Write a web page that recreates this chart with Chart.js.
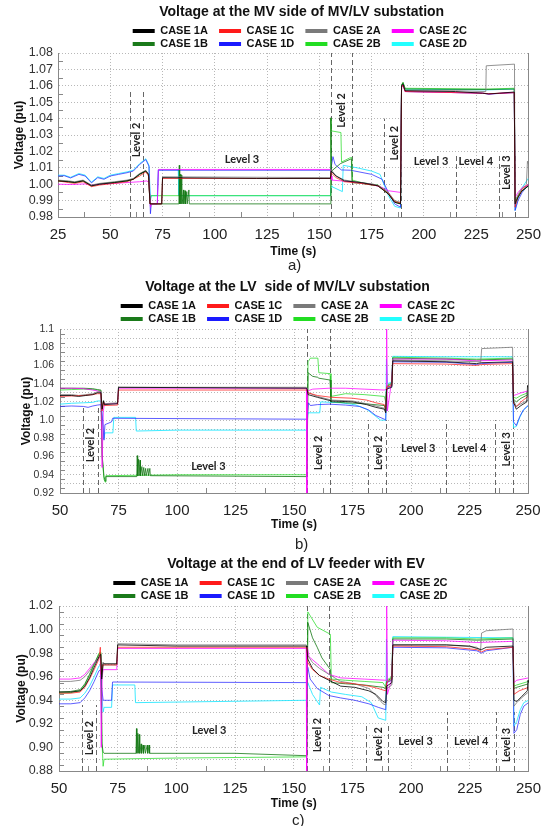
<!DOCTYPE html>
<html>
<head>
<meta charset="utf-8">
<script src="https://cdn.jsdelivr.net/npm/chart.js@4.4.0/dist/chart.umd.min.js"></script>
<style>
  html, body { margin: 0; padding: 0; background: #fff; }
  #page { position: relative; width: 550px; height: 826px; overflow: hidden; }
  canvas { position: absolute; left: 0; }
  .tag { position: absolute; font: 15px 'Liberation Sans', Arial, sans-serif; color: #222; line-height: 17px; }
</style>
</head>
<body>
<div id="page">
  <canvas id="chartA" width="550" height="263" style="top:0"></canvas>
  <canvas id="chartB" width="550" height="266" style="top:270px"></canvas>
  <canvas id="chartC" width="550" height="267" style="top:548px"></canvas>
  <div class="tag" style="left:288px;top:256px">a)</div>
  <div class="tag" style="left:295px;top:535px">b)</div>
  <div class="tag" style="left:292px;top:811px">c)</div>
</div>
<script>
// legend order (row by row): 1A 1C 2A 2C / 1B 1D 2B 2D
var caseNames = ['CASE 1A', 'CASE 1C', 'CASE 2A', 'CASE 2C', 'CASE 1B', 'CASE 1D', 'CASE 2B', 'CASE 2D'];
var caseColors = ['#000000', '#ff1a1a', '#7a7a7a', '#ff00ff', '#1a7a1a', '#1a1aff', '#22dd22', '#22ffff'];
var lineColors = ['rgba(0,0,0,0.8)', 'rgba(255,30,30,0.75)', 'rgba(120,120,120,0.8)', 'rgba(255,0,255,0.75)',
                  'rgba(20,120,20,0.8)', 'rgba(40,40,255,0.75)', 'rgba(40,220,40,0.75)', 'rgba(30,230,255,0.85)'];

// a) MV side of MV/LV substation  [time s, voltage pu]
var mv1A = [[25,1.002],[30,1.0015],[33,1.001],[37,1.002],[41,0.999],[45,1.0],[52,1.001],[58,1.002],[61,1.003],[64,1.006],[67,1.008],[68.3,1.006],[69,0.988],[74.6,0.988],[75,1.004],[120,1.0035],[155.3,1.0035],[155.6,1.008],[158,1.005],[162,1.002],[170,1.001],[178,0.999],[183,0.994],[186,0.989],[188.8,0.988],[189.3,1.060],[190,1.061],[191,1.057],[215,1.0565],[228,1.0555],[231,1.055],[236,1.0555],[243.2,1.0562],[243.6,0.988],[245,0.992],[247,0.996],[250,0.999]];
var mv1C = [[25,1.002],[30,1.001],[33,1.0005],[37,1.0015],[41,0.9985],[45,0.9995],[52,1.0005],[58,1.0015],[61,1.003],[64,1.005],[67,1.0075],[68.3,1.005],[69,0.988],[74.6,0.988],[75,1.0035],[155.3,1.0035],[155.6,1.007],[158,1.004],[162,1.0015],[170,1.0005],[178,0.999],[183,0.9945],[186,0.9895],[188.8,0.9885],[189.3,1.059],[190,1.0605],[191,1.0565],[228,1.0555],[231,1.0552],[243.2,1.0558],[243.6,0.986],[245,0.992],[247,0.997],[250,1.0]];
var mv2A = [[25,1.0025],[30,1.002],[33,1.0015],[37,1.0025],[41,0.9995],[45,1.0005],[52,1.0015],[58,1.0025],[61,1.0035],[64,1.0065],[67,1.0085],[68.3,1.006],[69,0.988],[74.6,0.988],[75,1.0045],[155.3,1.004],[155.6,1.009],[158,1.005],[162,1.0025],[170,1.001],[178,0.9995],[183,0.995],[186,0.99],[188.8,0.989],[189.3,1.06],[190,1.061],[191,1.057],[215,1.057],[229.6,1.0565],[229.8,1.0722],[243.3,1.0732],[243.6,0.99],[246,0.996],[249,1.0],[249.5,1.014],[250,1.012]];
var mv2C = [[25,1.0],[32,0.9998],[38,1.0002],[41,0.9995],[45,1.0],[52,1.0005],[58,1.001],[64,1.0015],[67.5,1.002],[68.5,1.001],[69.2,0.986],[69.6,0.988],[72.5,0.988],[73,1.009],[155.3,1.009],[155.6,1.005],[156,1.0025],[165,1.0015],[175,1.0],[180,0.998],[183,0.996],[188.8,0.995],[189.3,1.059],[190,1.0605],[191,1.0565],[228,1.0555],[231,1.055],[243.2,1.056],[243.6,0.992],[245,0.995],[247,0.998],[250,0.9995]];
var mv1B = [[25,1.0022],[30,1.0017],[33,1.0012],[37,1.0022],[41,0.9992],[45,1.0002],[52,1.0012],[58,1.0022],[61,1.0032],[64,1.0062],[67,1.0082],[68.3,1.006],[69,0.988],[82.8,0.988],[83,1.0115],[83.2,0.988],[83.6,1.006],[83.8,0.988],[84.2,1.0055],[84.4,0.988],[85,0.9965],[85.2,0.988],[85.8,0.996],[86,0.988],[86.6,0.9955],[86.8,0.988],[87.6,0.9965],[87.8,0.988],[155.3,0.988],[155.5,1.0405],[155.8,1.008],[160,1.0125],[165.3,1.0155],[165.6,1.001],[170,1.0005],[178,0.999],[183,0.994],[186,0.989],[188.8,0.988],[189.3,1.0605],[190,1.062],[191,1.058],[230,1.0578],[243.2,1.058],[243.6,0.989],[246,0.995],[250,0.999]];
var mv1D = [[25,1.005],[28,1.0052],[31,1.0038],[35,1.006],[38,1.005],[41,1.0008],[44,1.004],[47,1.003],[50,1.005],[54,1.006],[58,1.007],[61,1.008],[64,1.012],[67,1.015],[68.5,1.011],[69.2,0.982],[69.6,0.988],[72.5,0.988],[73,1.0085],[155.3,1.0085],[155.6,1.01],[156.5,1.0168],[157.5,1.012],[160.5,1.0087],[165,1.0085],[175,1.006],[180,1.003],[183,0.995],[186,0.988],[188.8,0.986],[189.3,1.059],[190,1.0605],[191,1.0565],[228,1.0555],[231,1.055],[243.2,1.0558],[243.6,0.984],[245,0.99],[247,0.995],[250,1.0]];
var mv2B = [[25,1.002],[30,1.0015],[33,1.001],[37,1.002],[41,0.999],[45,1.0],[52,1.001],[58,1.002],[61,1.003],[64,1.006],[67,1.0082],[68.3,1.006],[69,0.99],[69.5,0.993],[155.3,0.993],[155.5,1.0403],[155.8,1.0325],[160.3,1.0315],[160.6,1.0135],[164.5,1.016],[165.5,1.0163],[165.8,1.0025],[170,1.001],[178,0.9995],[183,0.9945],[186,0.9895],[188.8,0.9885],[189.3,1.0605],[190,1.062],[191,1.0585],[230,1.058],[243.2,1.0585],[243.6,0.99],[246,0.995],[250,0.999]];
var mv2D = [[25,1.0055],[28,1.0055],[31,1.0042],[35,1.0065],[38,1.0055],[41,1.0012],[44,1.0045],[47,1.0035],[50,1.0055],[54,1.0065],[58,1.0075],[61,1.0085],[64,1.0125],[67,1.0155],[68.5,1.0115],[69.2,0.99],[69.6,0.993],[72.5,0.993],[73,1.0088],[82.5,1.0088],[82.8,0.993],[155.3,0.993],[155.6,0.999],[156,0.9985],[161,0.9955],[161.4,1.0115],[168,1.01],[175,1.008],[179,1.006],[183,0.993],[186,0.9865],[188.8,0.9855],[189.3,1.06],[190,1.0615],[191,1.058],[230,1.0575],[243.2,1.058],[243.6,0.984],[245,0.991],[247,0.998],[250,1.0037]];

// b) LV side of MV/LV substation
var lv1A = [[50,1.027],[55,1.027],[58,1.026],[61,1.027],[64,1.028],[66,1.03],[67.5,1.03],[68,1.012],[68.6,1.021],[69,1.017],[74.6,1.018],[75,1.036],[155.3,1.035],[155.6,1.034],[156,1.028],[160,1.025],[166,1.021],[175,1.02],[181,1.017],[185,1.014],[188.6,1.012],[189.2,1.008],[189.6,1.034],[191.8,1.036],[192.2,1.065],[215,1.064],[228,1.062],[230,1.063],[243.4,1.064],[243.8,1.02],[245,1.012],[247,1.016],[249.5,1.02],[249.8,1.038],[250,1.036]];
var lv1C = [[50,1.026],[55,1.0265],[60,1.027],[64,1.028],[66,1.029],[67.5,1.029],[68,1.01],[68.6,1.02],[69,1.016],[74.6,1.0165],[75,1.033],[155.3,1.033],[155.6,1.033],[156,1.03],[160,1.027],[166,1.025],[175,1.024],[181,1.022],[185,1.019],[188.6,1.017],[189.2,1.012],[189.6,1.036],[191.8,1.038],[192.2,1.062],[215,1.0615],[228,1.06],[230,1.061],[243.4,1.062],[243.8,1.018],[245,1.015],[247,1.02],[250,1.026]];
var lv2A = [[50,1.028],[55,1.028],[58,1.027],[61,1.028],[64,1.029],[66,1.031],[67.5,1.031],[68,1.013],[68.6,1.022],[69,1.018],[74.6,1.019],[75,1.036],[155.3,1.036],[155.6,1.035],[156,1.03],[160,1.026],[166,1.022],[175,1.021],[181,1.018],[185,1.0155],[188.6,1.013],[189.2,1.009],[189.6,1.036],[191.8,1.038],[192.2,1.066],[215,1.065],[229.8,1.064],[230.2,1.0785],[243.4,1.08],[243.8,1.022],[245,1.015],[247,1.018],[250,1.022]];
var lv2C = [[50,1.035],[55,1.035],[60,1.0345],[64,1.033],[66,1.032],[67.5,1.031],[68,0.948],[68.5,1.01],[69,1.018],[74.6,1.018],[75,1.035],[155.3,1.035],[155.5,0.92],[155.8,1.032],[158,1.034],[165,1.035],[172,1.035],[180,1.034],[188.6,1.033],[189.5,1.034],[189.6,1.1],[189.9,1.01],[191.8,1.044],[192.2,1.067],[215,1.067],[228,1.065],[243.4,1.066],[243.8,1.027],[245,1.028],[247,1.03],[250,1.032]];
var lv1B = [[50,1.035],[55,1.035],[60,1.035],[64,1.0345],[66,1.0335],[67.5,1.033],[68,0.962],[68.8,0.938],[69.3,0.933],[69.6,0.938],[82.8,0.938],[83,0.961],[83.2,0.939],[83.6,0.957],[83.8,0.939],[84.2,0.956],[84.4,0.939],[85,0.949],[85.2,0.939],[85.8,0.948],[86,0.939],[86.6,0.947],[86.8,0.939],[87.6,0.947],[87.8,0.939],[88.4,0.947],[88.6,0.939],[155.3,0.938],[155.6,0.945],[156,1.052],[158,1.048],[160.2,1.047],[160.6,1.046],[165.4,1.044],[165.8,1.02],[172,1.019],[180,1.018],[188.6,1.016],[189.2,1.01],[189.6,1.037],[191.8,1.04],[192.2,1.068],[215,1.067],[228,1.066],[243.4,1.067],[243.8,1.023],[245,1.02],[247,1.024],[250,1.028]];
var lv1D = [[50,1.015],[55,1.0155],[60,1.015],[62,1.014],[64,1.0155],[66,1.0165],[67.5,1.017],[68.2,1.0],[68.8,0.978],[69.2,0.995],[72,0.998],[72.5,1.002],[155.3,1.001],[155.6,1.0],[156.2,1.019],[157,1.016],[160,1.017],[165,1.0175],[172,1.0165],[178,1.015],[182,1.011],[185,1.005],[188.6,1.001],[189.2,1.0],[189.6,1.035],[191.8,1.037],[192.2,1.064],[215,1.0635],[228,1.061],[230,1.062],[243.4,1.0635],[243.8,0.998],[245,0.994],[246.5,1.004],[248,1.011],[250,1.016]];
var lv2B = [[50,1.033],[55,1.0335],[60,1.034],[64,1.0335],[66,1.033],[67.5,1.032],[68,0.96],[68.8,0.935],[69.3,0.932],[69.6,0.939],[100,0.94],[155.3,0.94],[155.6,0.945],[156,1.064],[157,1.068],[160.2,1.068],[160.6,1.052],[165.4,1.051],[165.8,1.026],[172,1.029],[180,1.028],[188.6,1.026],[189.2,1.02],[189.6,1.038],[191.8,1.041],[192.2,1.069],[215,1.068],[228,1.067],[243.4,1.068],[243.8,1.025],[245,1.024],[247,1.027],[250,1.03]];
var lv2D = [[50,1.0175],[55,1.0185],[60,1.019],[64,1.0195],[66,1.021],[67.5,1.021],[68.2,1.002],[68.8,0.98],[69.2,0.986],[72.6,0.986],[73,1.003],[82.3,1.003],[82.6,0.988],[100,0.989],[155.3,0.989],[155.6,0.995],[156,1.008],[161,1.008],[161.4,1.02],[170,1.019],[176,1.017],[181,1.012],[185,1.004],[187,1.0],[189.2,1.0],[189.5,1.067],[190,1.04],[191.8,1.042],[192.2,1.07],[215,1.0695],[243.4,1.0695],[243.8,0.992],[245,0.993],[246.5,1.003],[248,1.011],[250,1.0155]];

// c) end of LV feeder with EV
var ev1A = [[50,0.947],[55,0.947],[59,0.948],[61,0.952],[63,0.959],[65,0.968],[67,0.977],[67.8,0.979],[68.2,0.958],[68.8,0.972],[69.2,0.971],[74.6,0.971],[75,0.987],[100,0.986],[155.3,0.986],[155.6,0.985],[156,0.975],[158,0.967],[161,0.961],[165,0.957],[170,0.952],[176,0.951],[182,0.948],[185,0.945],[188,0.939],[189.2,0.938],[189.6,0.952],[191.8,0.955],[192.2,0.987],[215,0.987],[225,0.986],[228,0.984],[230,0.983],[232,0.985],[243.4,0.986],[243.8,0.94],[245,0.939],[247,0.943],[249.5,0.948],[249.8,0.957],[250,0.955]];
var ev1C = [[50,0.946],[55,0.946],[59,0.947],[61,0.951],[63,0.958],[65,0.966],[67,0.975],[67.6,0.985],[68,0.962],[68.6,0.97],[74.6,0.97],[75,0.985],[155.3,0.985],[155.6,0.984],[156,0.972],[158,0.966],[161,0.961],[165,0.958],[170,0.955],[176,0.954],[182,0.952],[186,0.95],[189.2,0.948],[189.6,0.955],[191.8,0.958],[192.2,0.986],[215,0.9855],[228,0.983],[230,0.981],[232,0.983],[243.4,0.985],[243.8,0.945],[246,0.948],[250,0.951]];
var ev2A = [[50,0.956],[55,0.956],[59,0.957],[61,0.96],[63,0.965],[65,0.971],[67,0.976],[67.8,0.978],[68.2,0.96],[68.8,0.97],[74.6,0.97],[75,0.988],[100,0.987],[155.3,0.987],[155.6,0.986],[156,0.978],[158,0.972],[161,0.967],[165,0.962],[170,0.956],[176,0.954],[182,0.95],[185,0.944],[188,0.937],[189.2,0.936],[189.6,0.95],[191.8,0.953],[192.2,0.987],[215,0.987],[228,0.985],[229.6,0.982],[230,0.997],[232,0.999],[243.4,1.0005],[243.8,0.935],[245,0.938],[247,0.942],[250,0.947]];
var ev2C = [[50,0.958],[55,0.958],[59,0.959],[61,0.962],[63,0.967],[65,0.972],[67,0.976],[67.6,0.977],[68,0.9],[68.4,0.96],[68.8,0.966],[74.6,0.966],[75,0.984],[155.3,0.984],[155.5,0.88],[155.8,0.985],[156.5,0.977],[160,0.971],[165,0.962],[170,0.959],[180,0.958],[189.2,0.957],[189.5,0.957],[189.6,1.02],[189.9,0.945],[191.8,0.958],[192.2,0.991],[215,0.9905],[228,0.989],[243.4,0.99],[243.8,0.955],[245,0.957],[250,0.959]];
var ev1B = [[50,0.947],[55,0.9475],[59,0.949],[61,0.954],[63,0.962],[65,0.971],[67,0.979],[67.8,0.98],[68.3,0.903],[68.8,0.896],[69.2,0.895],[82.8,0.895],[83,0.916],[83.2,0.895],[83.6,0.912],[83.8,0.895],[84.2,0.911],[84.4,0.895],[85,0.903],[85.2,0.895],[85.8,0.902],[86,0.895],[86.6,0.902],[86.8,0.895],[87.6,0.902],[87.8,0.895],[88.4,0.902],[88.6,0.895],[125,0.895],[155.3,0.893],[155.6,0.9],[156,1.006],[158,0.993],[160,0.985],[162,0.976],[165.6,0.966],[166,0.955],[172,0.954],[180,0.953],[188,0.951],[189.2,0.95],[189.6,0.956],[191.8,0.959],[192.2,0.992],[215,0.992],[228,0.991],[243.4,0.992],[243.8,0.95],[245,0.951],[250,0.954]];
var ev1D = [[50,0.937],[55,0.937],[59,0.938],[61,0.942],[63,0.948],[65,0.956],[67,0.965],[67.8,0.966],[68.2,0.95],[68.8,0.94],[72.4,0.94],[72.8,0.9555],[155.3,0.955],[155.6,0.957],[156,0.968],[157,0.958],[160,0.95],[165,0.944],[170,0.942],[176,0.94],[182,0.937],[186,0.934],[189.2,0.932],[189.6,0.955],[191.8,0.957],[192.2,0.985],[215,0.9845],[228,0.982],[230,0.98],[232,0.982],[243.4,0.985],[243.8,0.912],[245,0.915],[246.5,0.928],[248,0.935],[250,0.938]];
var ev2B = [[50,0.946],[55,0.9465],[59,0.948],[61,0.953],[63,0.961],[65,0.97],[67,0.98],[67.8,0.981],[68.3,0.905],[68.8,0.884],[69.2,0.89],[100,0.891],[155.3,0.892],[155.6,0.9],[156,1.015],[160,1.002],[165.6,0.996],[166,0.958],[172,0.957],[180,0.956],[188,0.955],[189.2,0.951],[189.6,0.957],[191.8,0.96],[192.2,0.993],[215,0.993],[228,0.992],[243.4,0.993],[243.8,0.952],[245,0.953],[250,0.956]];
var ev2D = [[50,0.941],[55,0.941],[59,0.942],[61,0.946],[63,0.952],[65,0.96],[67,0.969],[67.8,0.97],[68.2,0.945],[68.8,0.93],[69.2,0.934],[72.4,0.934],[72.8,0.953],[82.3,0.953],[82.6,0.938],[155.3,0.94],[155.6,0.942],[156,0.955],[158,0.945],[161,0.936],[161.4,0.951],[166,0.947],[172,0.945],[179,0.943],[183,0.938],[186,0.925],[189.2,0.923],[189.5,0.992],[189.9,0.955],[191.8,0.958],[192.2,0.994],[215,0.9935],[243.4,0.993],[243.8,0.918],[245,0.922],[246.5,0.932],[248,0.938],[250,0.94]];

// dashed event markers [time, top of line in pu] and level captions [time, pu, text, vertical]
var mvMarkers = [[59.3,1.058],[65.6,1.058],[155.5,1.08],[165.5,1.08],[181,1.04],[189,1.04],[215.2,1.018],[235.8,1.018],[243.6,1.018]];
var lvMarkers = [[60,1.015],[66.1,1.015],[155.7,1.1],[165.4,1.1],[181.5,1.0],[189.5,1.0],[215,1.0],[236,1.0],[243.7,1.0]];
var evMarkers = [[59.6,0.936],[65.7,0.936],[155.5,1.02],[165,1.02],[180.9,0.92],[190.1,0.92],[215.2,0.93],[236,0.93],[243.8,0.93]];
var mvCaptions = [[62.4,1.027,'Level 2',true],[113,1.0153,'Level 3',false],[160.6,1.045,'Level 2',true],[186.1,1.025,'Level 2',true],[203.4,1.014,'Level 3',false],[224.8,1.014,'Level 4',false],[239.3,1.007,'Level 3',true]];
var lvCaptions = [[63.1,0.9727,'Level 2',true],[113.4,0.9496,'Level 3',false],[160.4,0.964,'Level 2',true],[186.3,0.964,'Level 2',true],[203.1,0.969,'Level 3',false],[224.9,0.969,'Level 4',false],[240.6,0.968,'Level 3',true]];
var evCaptions = [[62.9,0.908,'Level 2',true],[114,0.9148,'Level 3',false],[160.3,0.9105,'Level 2',true],[186.2,0.9027,'Level 2',true],[201.9,0.905,'Level 3',false],[225.6,0.905,'Level 4',false],[240.5,0.902,'Level 3',true]];

Chart.defaults.font.family = "'Liberation Sans', Arial, sans-serif";
Chart.defaults.color = '#222';

// markers, captions, minor ticks, and placement of title / legend rows
var levelPlugin = {
	id: 'levels',
	afterLayout: function(chart, args, o) {
		var t = chart.titleBlock;
		var tw = t.right - t.left;
		t.left = o.titleX - tw / 2; t.right = o.titleX + tw / 2;
		t.top += o.titleDy; t.bottom += o.titleDy;
		var lg = chart.legend;
		lg.maxWidth = 360;
		lg.fit();
		var lw = lg.lineWidths[0];
		lg.left = o.legendX - (362 - lw) / 2;
		lg.right = lg.left + 360;
		lg.top += o.legendDy; lg.bottom += o.legendDy;
	},
	beforeDatasetsDraw: function(chart, args, o) {
		var ctx = chart.ctx, a = chart.chartArea, x = chart.scales.x, y = chart.scales.y;
		ctx.save();
		ctx.strokeStyle = '#888';
		ctx.lineWidth = 1;
		ctx.beginPath();
		for (var t = x.min + 12.5; t < x.max; t += 25) {
			var px = Math.round(x.getPixelForValue(t)) + 0.5;
			ctx.moveTo(px, a.bottom); ctx.lineTo(px, a.bottom - 5);
		}
		for (var v = y.min + 0.005; v < y.max; v += 0.01) {
			var py = Math.round(y.getPixelForValue(v)) + 0.5;
			ctx.moveTo(a.left, py); ctx.lineTo(a.left + 5, py);
		}
		ctx.moveTo(Math.round(a.right) + 0.5, a.top); ctx.lineTo(Math.round(a.right) + 0.5, a.bottom);
		ctx.stroke();
		ctx.strokeStyle = '#666';
		ctx.setLineDash([5, 3]);
		ctx.beginPath();
		o.markers.forEach(function(m) {
			var px = Math.round(x.getPixelForValue(m[0])) + 0.5;
			ctx.moveTo(px, a.bottom); ctx.lineTo(px, y.getPixelForValue(m[1]));
		});
		ctx.stroke();
		ctx.restore();
	},
	afterDatasetsDraw: function(chart, args, o) {
		var ctx = chart.ctx, x = chart.scales.x, y = chart.scales.y;
		ctx.save();
		ctx.font = 'bold 11px Lato, sans-serif';
		ctx.fillStyle = '#222';
		ctx.textAlign = 'center';
		ctx.textBaseline = 'middle';
		o.captions.forEach(function(c) {
			ctx.save();
			ctx.translate(x.getPixelForValue(c[0]), y.getPixelForValue(c[1]));
			if (c[3]) ctx.rotate(-Math.PI / 2);
			ctx.fillText(c[2], 0, 0);
			ctx.restore();
		});
		ctx.restore();
	}
};

function trimZero(s) {
	return s.charAt(s.length - 1) === '0' ? s.slice(0, -1) : s;
}

function buildPanel(id, p) {
	var datasets = p.series.map(function(s, i) {
		return {
			label: caseNames[i],
			data: s.map(function(d) { return {x: d[0], y: d[1]}; }),
			borderColor: lineColors[i],
			backgroundColor: caseColors[i],
			borderWidth: 1,
			pointRadius: 0,
			tension: 0,
			fill: false
		};
	});
	return new Chart(document.getElementById(id), {
		type: 'line',
		data: {datasets: datasets},
		plugins: [levelPlugin],
		options: {
			responsive: false,
			animation: false,
			events: [],
			layout: {padding: p.padding},
			plugins: {
				title: {display: true, text: p.title, font: {size: 14, weight: 'bold'}, color: '#111', padding: 0},
				legend: {
					labels: {
						boxWidth: 22, boxHeight: 4, padding: 2,
						font: {size: 11, weight: 'bold'}, color: '#111',
						generateLabels: function(chart) {
							return chart.data.datasets.map(function(ds, i) {
								return {text: ds.label + '\u00a0\u00a0\u00a0', fillStyle: caseColors[i], strokeStyle: caseColors[i],
									lineWidth: 0, hidden: false, datasetIndex: i, fontColor: '#111'};
							});
						}
					}
				},
				tooltip: {enabled: false},
				levels: {markers: p.markers, captions: p.captions, titleX: p.titleX, titleDy: p.titleDy,
					legendX: p.legendX, legendDy: p.legendDy}
			},
			scales: {
				x: {
					type: 'linear', min: p.xMin, max: 250,
					afterFit: function(s) { s.height = p.xHeight; },
					ticks: {stepSize: 25, autoSkip: false, maxRotation: 0, padding: 9, font: {size: 15}, color: '#222'},
					grid: {color: '#b8b8b8', drawTicks: false},
					border: {color: '#888', dash: [1, 2]},
					title: {display: true, text: 'Time (s)', font: {size: 12, weight: 'bold'}, color: '#111', padding: {top: 0, bottom: 4}}
				},
				y: {
					min: p.yMin, max: p.yMax,
					afterFit: function(s) { s.width = p.yWidth; },
					ticks: {stepSize: 0.01, autoSkip: false, padding: p.yPad, font: {size: p.yFont}, color: '#333', callback: p.yLabel},
					grid: {color: '#b8b8b8', drawTicks: false},
					border: {color: '#888', dash: [1, 2]},
					title: {display: true, text: 'Voltage (pu)', font: {size: 12, weight: 'bold'}, color: '#111', padding: {top: 4, bottom: 4}}
				}
			}
		}
	});
}

buildPanel('chartA', {
	title: 'Voltage at the MV side of MV/LV substation',
	series: [mv1A, mv1C, mv2A, mv2C, mv1B, mv1D, mv2B, mv2D],
	markers: mvMarkers, captions: mvCaptions,
	xMin: 25, yMin: 0.98, yMax: 1.08,
	padding: {top: 0.2, left: 8, right: 19, bottom: 0},
	xHeight: 46, yWidth: 50, yPad: 5, yFont: 12.5,
	titleX: 301.7, titleDy: 3.4, legendX: 132.7, legendDy: 6.5,
	yLabel: function(v) { return v.toFixed(2); }
});

buildPanel('chartB', {
	title: 'Voltage at the LV  side of MV/LV substation',
	series: [lv1A, lv1C, lv2A, lv2C, lv1B, lv1D, lv2B, lv2D],
	markers: lvMarkers, captions: lvCaptions,
	xMin: 50, yMin: 0.92, yMax: 1.1,
	padding: {top: 6.2, left: 15, right: 22, bottom: 0},
	xHeight: 43, yWidth: 45, yPad: 6, yFont: 10.5,
	titleX: 287.5, titleDy: 2.4, legendX: 120.7, legendDy: 5.5,
	yLabel: function(v) { return Math.round(v * 100) % 2 ? '' : trimZero(v.toFixed(2)); }
});

buildPanel('chartC', {
	title: 'Voltage at the end of LV feeder with EV',
	series: [ev1A, ev1C, ev2A, ev2C, ev1B, ev1D, ev2B, ev2D],
	markers: evMarkers, captions: evCaptions,
	xMin: 50, yMin: 0.88, yMax: 1.02,
	padding: {top: 5.2, left: 10, right: 21, bottom: 0},
	xHeight: 44, yWidth: 49, yPad: 6, yFont: 12.5,
	titleX: 296, titleDy: 2.4, legendX: 113.3, legendDy: 5.5,
	yLabel: function(v) { return Math.round(v * 100) % 2 ? '' : v.toFixed(2); }
});
</script>
</body>
</html>
